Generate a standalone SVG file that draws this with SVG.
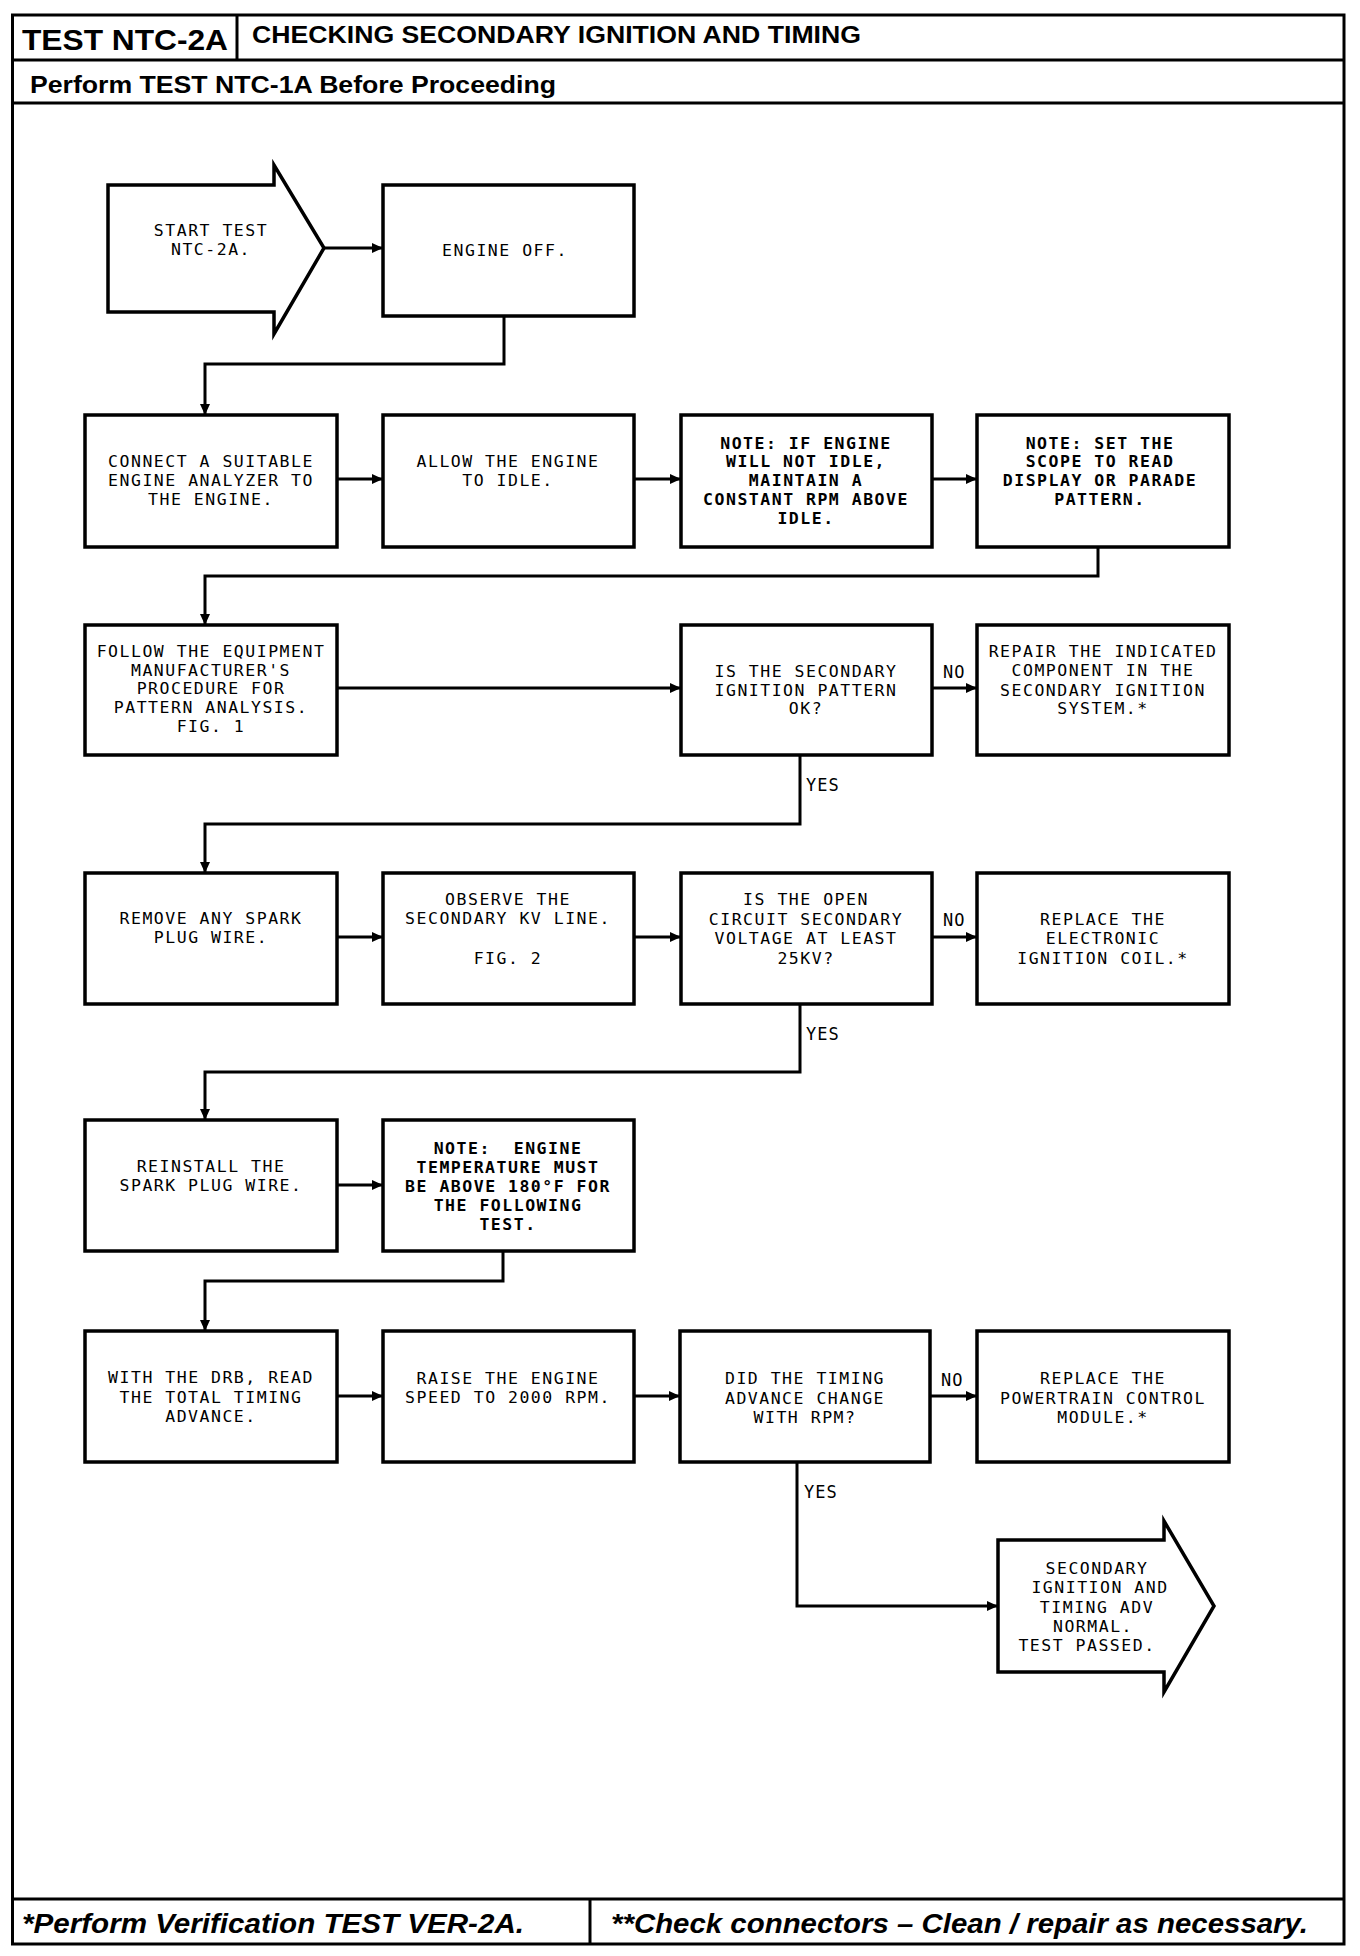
<svg xmlns="http://www.w3.org/2000/svg" width="1360" height="1956" viewBox="0 0 1360 1956">
<style>
.frame{fill:none;stroke:#000;stroke-width:3}
.box{fill:#fff;stroke:#000;stroke-width:3.5}
.t{font-family:"DejaVu Sans Mono","Liberation Mono",monospace;font-size:16.5px;letter-spacing:1.5px;text-anchor:middle;fill:#000}
.b{font-weight:bold}
.lbl{font-family:"DejaVu Sans Mono","Liberation Mono",monospace;font-size:17px;letter-spacing:1px;fill:#000}
.c{fill:none;stroke:#000;stroke-width:3}
.hd{font-family:"Liberation Sans",Arial,sans-serif;font-weight:bold;fill:#000}
.ft{font-family:"Liberation Sans",Arial,sans-serif;font-weight:bold;font-style:italic;fill:#000}
</style>
<defs>
<marker id="ah" markerUnits="userSpaceOnUse" markerWidth="11" markerHeight="10" refX="11" refY="5" orient="auto">
<path d="M0,0 L11,5 L0,10 z" fill="#000"/>
</marker>
</defs>
<rect width="1360" height="1956" fill="#fff"/>
<g id="frame">
<rect class="frame" x="12.5" y="15" width="1331.5" height="1929"/>
<line class="frame" x1="12.5" y1="60" x2="1344" y2="60"/>
<line class="frame" x1="237" y1="15" x2="237" y2="60"/>
<line class="frame" x1="12.5" y1="103" x2="1344" y2="103"/>
<line class="frame" x1="12.5" y1="1899" x2="1344" y2="1899"/>
<line class="frame" x1="590" y1="1899" x2="590" y2="1944"/>
<text class="hd" x="22" y="50" font-size="30" textLength="206" lengthAdjust="spacingAndGlyphs">TEST NTC-2A</text>
<text class="hd" x="252" y="43" font-size="23" textLength="609" lengthAdjust="spacingAndGlyphs">CHECKING SECONDARY IGNITION AND TIMING</text>
<text class="hd" x="30" y="93" font-size="24" textLength="526" lengthAdjust="spacingAndGlyphs">Perform TEST NTC-1A Before Proceeding</text>
<text class="ft" x="22" y="1933" font-size="27" textLength="502" lengthAdjust="spacingAndGlyphs">*Perform Verification TEST VER-2A.</text>
<text class="ft" x="611" y="1933" font-size="27" textLength="697" lengthAdjust="spacingAndGlyphs">**Check connectors – Clean / repair as necessary.</text>
</g>
<g id="connectors">
<line class="c" x1="324" y1="248" x2="383" y2="248" marker-end="url(#ah)"/>
<polyline class="c" points="504,316 504,364 205,364 205,415" marker-end="url(#ah)"/>
<line class="c" x1="337" y1="479" x2="383" y2="479" marker-end="url(#ah)"/>
<line class="c" x1="634" y1="479" x2="681" y2="479" marker-end="url(#ah)"/>
<line class="c" x1="932" y1="479" x2="977" y2="479" marker-end="url(#ah)"/>
<polyline class="c" points="1098,547 1098,576 205,576 205,625" marker-end="url(#ah)"/>
<line class="c" x1="337" y1="688" x2="681" y2="688" marker-end="url(#ah)"/>
<line class="c" x1="932" y1="688" x2="977" y2="688" marker-end="url(#ah)"/>
<text class="lbl" x="943" y="678">NO</text>
<polyline class="c" points="800,755 800,824 205,824 205,873" marker-end="url(#ah)"/>
<text class="lbl" x="806" y="791">YES</text>
<line class="c" x1="337" y1="937" x2="383" y2="937" marker-end="url(#ah)"/>
<line class="c" x1="634" y1="937" x2="681" y2="937" marker-end="url(#ah)"/>
<line class="c" x1="932" y1="937" x2="977" y2="937" marker-end="url(#ah)"/>
<text class="lbl" x="943" y="926">NO</text>
<polyline class="c" points="800,1004 800,1072 205,1072 205,1120" marker-end="url(#ah)"/>
<text class="lbl" x="806" y="1040">YES</text>
<line class="c" x1="337" y1="1185" x2="383" y2="1185" marker-end="url(#ah)"/>
<polyline class="c" points="503,1251 503,1281 205,1281 205,1331" marker-end="url(#ah)"/>
<line class="c" x1="337" y1="1396" x2="383" y2="1396" marker-end="url(#ah)"/>
<line class="c" x1="634" y1="1396" x2="680" y2="1396" marker-end="url(#ah)"/>
<line class="c" x1="930" y1="1396" x2="977" y2="1396" marker-end="url(#ah)"/>
<text class="lbl" x="941" y="1386">NO</text>
<polyline class="c" points="797,1462 797,1606 998,1606" marker-end="url(#ah)"/>
<text class="lbl" x="804" y="1498">YES</text>
</g>
<g id="start">
<path class="box" d="M108,185 L274,185 L274,165 L324,248 L274,334 L274,312 L108,312 Z"/>
<text class="t" x="211" y="236">START TEST</text>
<text class="t" x="211" y="255">NTC-2A.</text>
</g>
<g id="engine-off">
<rect class="box" x="383" y="185" width="251" height="131"/>
<text class="t" x="505" y="256">ENGINE OFF.</text>
</g>
<g id="connect-analyzer">
<rect class="box" x="85" y="415" width="252" height="132"/>
<text class="t" x="211" y="467">CONNECT A SUITABLE</text>
<text class="t" x="211" y="486">ENGINE ANALYZER TO</text>
<text class="t" x="211" y="505">THE ENGINE.</text>
</g>
<g id="allow-idle">
<rect class="box" x="383" y="415" width="251" height="132"/>
<text class="t" x="508" y="467">ALLOW THE ENGINE</text>
<text class="t" x="508" y="486">TO IDLE.</text>
</g>
<g id="note-idle">
<rect class="box" x="681" y="415" width="251" height="132"/>
<text class="t b" x="806" y="449">NOTE: IF ENGINE</text>
<text class="t b" x="806" y="467">WILL NOT IDLE,</text>
<text class="t b" x="806" y="486">MAINTAIN A</text>
<text class="t b" x="806" y="505">CONSTANT RPM ABOVE</text>
<text class="t b" x="806" y="524">IDLE.</text>
</g>
<g id="note-scope">
<rect class="box" x="977" y="415" width="252" height="132"/>
<text class="t b" x="1100" y="449">NOTE: SET THE</text>
<text class="t b" x="1100" y="467">SCOPE TO READ</text>
<text class="t b" x="1100" y="486">DISPLAY OR PARADE</text>
<text class="t b" x="1100" y="505">PATTERN.</text>
</g>
<g id="follow-procedure">
<rect class="box" x="85" y="625" width="252" height="130"/>
<text class="t" x="211" y="657">FOLLOW THE EQUIPMENT</text>
<text class="t" x="211" y="676">MANUFACTURER'S</text>
<text class="t" x="211" y="694">PROCEDURE FOR</text>
<text class="t" x="211" y="713">PATTERN ANALYSIS.</text>
<text class="t" x="211" y="732">FIG. 1</text>
</g>
<g id="pattern-ok">
<rect class="box" x="681" y="625" width="251" height="130"/>
<text class="t" x="806" y="677">IS THE SECONDARY</text>
<text class="t" x="806" y="696">IGNITION PATTERN</text>
<text class="t" x="806" y="714">OK?</text>
</g>
<g id="repair-component">
<rect class="box" x="977" y="625" width="252" height="130"/>
<text class="t" x="1103" y="657">REPAIR THE INDICATED</text>
<text class="t" x="1103" y="676">COMPONENT IN THE</text>
<text class="t" x="1103" y="696">SECONDARY IGNITION</text>
<text class="t" x="1103" y="714">SYSTEM.*</text>
</g>
<g id="remove-wire">
<rect class="box" x="85" y="873" width="252" height="131"/>
<text class="t" x="211" y="924">REMOVE ANY SPARK</text>
<text class="t" x="211" y="943">PLUG WIRE.</text>
</g>
<g id="observe-kv">
<rect class="box" x="383" y="873" width="251" height="131"/>
<text class="t" x="508" y="905">OBSERVE THE</text>
<text class="t" x="508" y="924">SECONDARY KV LINE.</text>
<text class="t" x="508" y="964">FIG. 2</text>
</g>
<g id="voltage-25kv">
<rect class="box" x="681" y="873" width="251" height="131"/>
<text class="t" x="806" y="905">IS THE OPEN</text>
<text class="t" x="806" y="925">CIRCUIT SECONDARY</text>
<text class="t" x="806" y="944">VOLTAGE AT LEAST</text>
<text class="t" x="806" y="964">25KV?</text>
</g>
<g id="replace-coil">
<rect class="box" x="977" y="873" width="252" height="131"/>
<text class="t" x="1103" y="925">REPLACE THE</text>
<text class="t" x="1103" y="944">ELECTRONIC</text>
<text class="t" x="1103" y="964">IGNITION COIL.*</text>
</g>
<g id="reinstall-wire">
<rect class="box" x="85" y="1120" width="252" height="131"/>
<text class="t" x="211" y="1172">REINSTALL THE</text>
<text class="t" x="211" y="1191">SPARK PLUG WIRE.</text>
</g>
<g id="note-temperature">
<rect class="box" x="383" y="1120" width="251" height="131"/>
<text class="t b" x="508" y="1154" xml:space="preserve">NOTE:  ENGINE</text>
<text class="t b" x="508" y="1173">TEMPERATURE MUST</text>
<text class="t b" x="508" y="1192">BE ABOVE 180°F FOR</text>
<text class="t b" x="508" y="1211">THE FOLLOWING</text>
<text class="t b" x="508" y="1230">TEST.</text>
</g>
<g id="read-timing">
<rect class="box" x="85" y="1331" width="252" height="131"/>
<text class="t" x="211" y="1383">WITH THE DRB, READ</text>
<text class="t" x="211" y="1403">THE TOTAL TIMING</text>
<text class="t" x="211" y="1422">ADVANCE.</text>
</g>
<g id="raise-speed">
<rect class="box" x="383" y="1331" width="251" height="131"/>
<text class="t" x="508" y="1384">RAISE THE ENGINE</text>
<text class="t" x="508" y="1403">SPEED TO 2000 RPM.</text>
</g>
<g id="timing-changed">
<rect class="box" x="680" y="1331" width="250" height="131"/>
<text class="t" x="805" y="1384">DID THE TIMING</text>
<text class="t" x="805" y="1404">ADVANCE CHANGE</text>
<text class="t" x="805" y="1423">WITH RPM?</text>
</g>
<g id="replace-pcm">
<rect class="box" x="977" y="1331" width="252" height="131"/>
<text class="t" x="1103" y="1384">REPLACE THE</text>
<text class="t" x="1103" y="1404">POWERTRAIN CONTROL</text>
<text class="t" x="1103" y="1423">MODULE.*</text>
</g>
<g id="end">
<path class="box" d="M998,1540 L1164,1540 L1164,1521 L1214,1606 L1164,1692 L1164,1672 L998,1672 Z"/>
<text class="t" x="1097" y="1574">SECONDARY</text>
<text class="t" x="1100" y="1593">IGNITION AND</text>
<text class="t" x="1097" y="1613">TIMING ADV</text>
<text class="t" x="1093" y="1632">NORMAL.</text>
<text class="t" x="1087" y="1651">TEST PASSED.</text>
</g>
</svg>
